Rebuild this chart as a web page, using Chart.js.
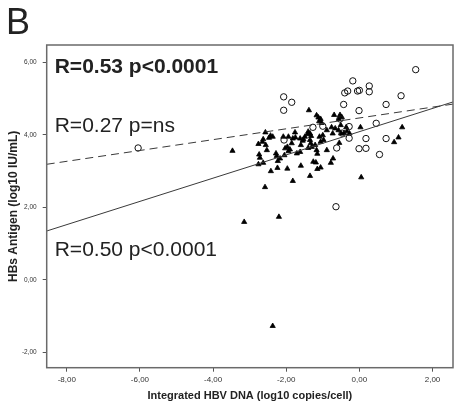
<!DOCTYPE html>
<html>
<head>
<meta charset="utf-8">
<script src="https://cdn.jsdelivr.net/npm/chart.js@4.4.1/dist/chart.umd.min.js"></script>
<style>
  html, body { margin: 0; padding: 0; background: #fff; }
  #wrap { width: 454px; height: 407px; }
</style>
</head>
<body>
<div id="wrap"><canvas id="hbsChart" width="454" height="407"></canvas></div>
<script>
// HBeAg-negative patients (filled triangles)
const triangleX = [-3.47, -3.15, -2.20, -2.58, -2.37, 0.05, -1.82, -1.35,
  -1.38, -1.17, -1.12, -1.06, -1.10, -1.03, -0.69, -0.53, -0.48, -0.56,
  -0.89, -0.76, -0.66, -0.57, -0.36, -0.34, -0.51, -0.42, -0.50, -0.27, 0.03, 1.17, 1.07, 0.95,
  -0.55, -0.72, -0.78, -1.06, -1.15, -1.19, -1.17, -1.15, -1.21, -1.09, -1.06, -1.00, -0.98, -0.89,
  -1.40, -1.35, -1.32, -1.35, -1.33, -1.40, -1.42, -1.49, -1.53, -1.76, -1.75, -1.82, -1.85, -1.94,
  -1.60, -1.62, -1.55, -1.71, -1.62, -1.60, -2.03, -1.97, -1.90, -1.94, -2.05, -1.97, -2.28, -2.26,
  -2.17, -2.23, -2.42, -2.24, -2.76, -2.63, -2.74, -2.72, -2.53, -2.56, -2.76, -2.65, -2.63, -2.57,
  -2.43, -2.47, -2.37, -2.08, -1.30, -1.26, -0.73];
const triangleY = [3.56, 1.60, 1.74, 2.56, -1.27, 2.83, 2.73, 2.87,
  4.68, 4.54, 4.48, 4.44, 4.38, 4.33, 4.55, 4.55, 4.49, 4.44,
  4.13, 4.21, 4.18, 4.13, 4.21, 4.10, 4.27, 4.05, 4.04, 4.04, 4.21, 4.21, 3.93, 3.80,
  3.78, 3.35, 3.23, 3.10, 3.06, 3.24, 3.58, 3.48, 3.72, 3.95, 3.81, 3.99, 3.86, 3.58,
  4.09, 4.04, 3.97, 3.86, 3.77, 3.64, 4.02, 3.95, 3.88, 4.07, 3.93, 3.90, 3.77, 3.95,
  3.72, 3.90, 3.84, 3.49, 3.53, 3.15, 3.63, 3.67, 3.60, 3.55, 3.44, 3.07, 3.49, 3.42,
  3.35, 3.28, 3.00, 3.09, 3.19, 3.23, 3.46, 3.37, 3.58, 3.72, 3.75, 3.81, 3.88, 4.07,
  3.98, 3.92, 3.95, 3.95, 3.67, 3.26, 4.04];

// HBeAg-positive patients (open circles)
const circleX = [-6.05, -2.07, -1.85, -2.07, -0.18, 0.27, 0.27, 0.00, -0.05, -0.32, -0.40,
  1.54, 1.14, 0.73, -0.43, -0.01, 0.46, -1.00, -0.28, -0.53, -2.06, -0.28, 0.18, 0.73,
  -0.62, -0.01, 0.18, 0.55, -0.64, -1.27, -0.47];
const circleY = [3.64, 5.05, 4.90, 4.68, 5.49, 5.35, 5.19, 5.23, 5.21, 5.21, 5.16,
  5.80, 5.08, 4.84, 4.84, 4.67, 4.32, 4.24, 4.23, 4.44, 3.86, 3.91, 3.90, 3.90,
  3.64, 3.62, 3.63, 3.46, 2.02, 4.21, 4.05];

// fit lines (end points at the axis limits)
const fitAllX = [-8.55, 2.56];
const fitAllY = [1.35, 4.91];
const fitPosX = [-8.55, 2.56];
const fitPosY = [3.19, 4.85];

const xMin = -8.55, xMax = 2.56;
const yMin = -2.42, yMax = 6.48;

const statLabels = ['R=0.53 p<0.0001', 'R=0.27 p=ns', 'R=0.50 p<0.0001'];
const panelLetter = 'B';

const toPoints = (xs, ys) => xs.map((x, i) => ({ x: x, y: ys[i] }));
const commaFmt = v => v.toFixed(2).replace('.', ',');
const FONT = "'Liberation Sans', Arial, sans-serif";

const framePlugin = {
    id: 'frame',
    afterDraw(chart) {
        const { ctx, chartArea: a } = chart;
        ctx.save();
        ctx.strokeStyle = '#6a6a6a';
        ctx.lineWidth = 1.5;
        ctx.strokeRect(a.left, a.top, a.right - a.left, a.bottom - a.top);

        ctx.fillStyle = '#222';
        ctx.textBaseline = 'alphabetic';
        ctx.textAlign = 'left';
        ctx.font = '36px ' + FONT;
        ctx.fillText(panelLetter, 6, 34);

        const lx = a.left + 8;
        ctx.font = 'bold 21px ' + FONT;
        ctx.fillText(statLabels[0], lx, 73);
        ctx.font = '21px ' + FONT;
        ctx.fillText(statLabels[1], lx, 132);
        ctx.fillText(statLabels[2], lx, 256);
        ctx.restore();
    }
};

const chartElement = document.getElementById('hbsChart');
const hbsChart = new Chart(chartElement, {
    type: 'scatter',
    data: {
        datasets: [
            {
                type: 'line',
                data: toPoints(fitAllX, fitAllY),
                borderColor: '#3a3a3a',
                borderWidth: 1,
                pointRadius: 0,
                order: 0
            },
            {
                type: 'line',
                data: toPoints(fitPosX, fitPosY),
                borderColor: '#3a3a3a',
                borderWidth: 1,
                borderDash: [8, 5],
                pointRadius: 0,
                order: 0
            },
            {
                data: toPoints(circleX, circleY),
                pointStyle: 'circle',
                pointRadius: 3.2,
                borderColor: '#111',
                borderWidth: 1,
                backgroundColor: 'rgba(0,0,0,0)',
                order: 1
            },
            {
                data: toPoints(triangleX, triangleY),
                pointStyle: 'triangle',
                pointRadius: 3,
                borderColor: '#000',
                borderWidth: 0.8,
                backgroundColor: '#000',
                order: 2
            }
        ]
    },
    options: {
        responsive: false,
        animation: false,
        layout: { autoPadding: false, padding: { top: 45, right: 1, left: 0, bottom: 0 } },
        plugins: {
            legend: { display: false },
            tooltip: { enabled: false }
        },
        scales: {
            x: {
                type: 'linear',
                min: xMin,
                max: xMax,
                afterFit: scale => { scale.height = 39.3; },
                ticks: {
                    stepSize: 2,
                    includeBounds: false,
                    padding: 3,
                    color: '#333',
                    font: { family: FONT, size: 8 },
                    callback: v => commaFmt(v)
                },
                grid: { drawOnChartArea: false, tickLength: 4, color: '#555' },
                border: { display: false },
                title: {
                    display: true,
                    text: 'Integrated HBV DNA (log10 copies/cell)',
                    color: '#222',
                    font: { family: FONT, size: 11, weight: 'bold' },
                    padding: { top: 0, bottom: 4 }
                }
            },
            y: {
                type: 'linear',
                min: yMin,
                max: yMax,
                afterFit: scale => { scale.width = 46.7; },
                ticks: {
                    stepSize: 2,
                    includeBounds: false,
                    padding: 6,
                    color: '#333',
                    font: { family: FONT, size: 6.5 },
                    callback: v => commaFmt(v)
                },
                grid: { drawOnChartArea: false, tickLength: 4, color: '#555' },
                border: { display: false },
                title: {
                    display: true,
                    text: 'HBs Antigen (log10 IU/mL)',
                    color: '#222',
                    font: { family: FONT, size: 12, weight: 'bold' },
                    padding: { top: 6, bottom: 0 }
                }
            }
        }
    },
    plugins: [framePlugin]
});
</script>
</body>
</html>
